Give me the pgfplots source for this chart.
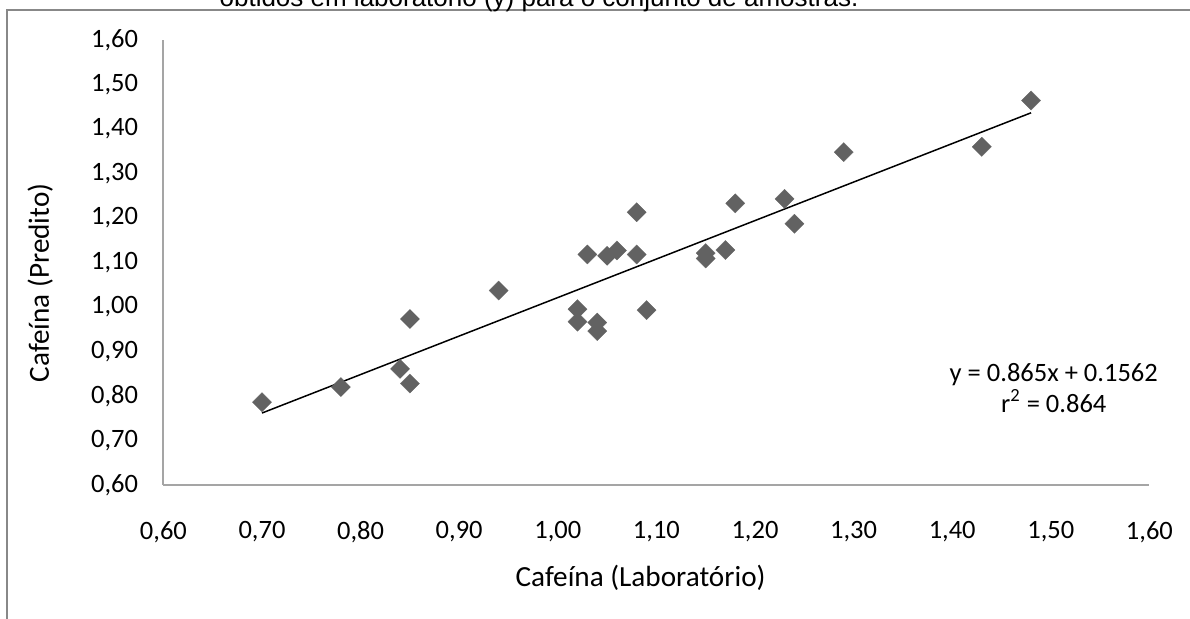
\documentclass[border=0pt]{standalone}
\usepackage{fontspec}
\setmainfont{Carlito}
\newfontfamily\arial{Liberation Sans}
\usepackage{pgfplots}
\pgfplotsset{compat=1.18}
\definecolor{mk}{RGB}{98,98,98}
\definecolor{ax}{RGB}{165,165,165}
\definecolor{fr}{RGB}{136,136,136}

\pgfplotstableread{
x y
0.70 0.786
0.78 0.820
0.84 0.861
0.85 0.828
0.85 0.973
0.94 1.037
1.02 0.995
1.02 0.967
1.04 0.965
1.04 0.946
1.03 1.118
1.05 1.115
1.06 1.127
1.08 1.213
1.08 1.118
1.09 0.993
1.15 1.121
1.15 1.109
1.17 1.128
1.18 1.233
1.23 1.243
1.24 1.187
1.29 1.348
1.43 1.360
1.48 1.464
}\datatable

\begin{document}
\begin{tikzpicture}[x=0.5pt,y=0.5pt]
\useasboundingbox (0,0) rectangle (1190,619);
\draw[fr, line width=1pt] (7,-10) -- (7,609) -- (1210,609);
\node[font=\arial\fontsize{13}{15}\selectfont, anchor=base, inner sep=0pt] at (539,612) {obtidos em laboratório (y) para o conjunto de amostras.};
\begin{axis}[
  at={(81.7pt,67pt)}, anchor=south west,
  scale only axis, width=493pt, height=222.5pt,
  xmin=0.6, xmax=1.6, ymin=0.6, ymax=1.6,
  xtick={0.6,0.7,0.8,0.9,1.0,1.1,1.2,1.3,1.4,1.5,1.6},
  ytick={0.6,0.7,0.8,0.9,1.0,1.1,1.2,1.3,1.4,1.5,1.6},
  axis x line*=bottom, axis y line*=left,
  axis line style={ax, line width=1pt},
  major tick length=0pt,
  tick label style={font=\fontsize{13.25}{15}\selectfont},
  xticklabel style={inner sep=0pt, anchor=north, yshift=-18pt},
  yticklabel style={inner sep=0pt, anchor=east, xshift=-12.5pt},
  /pgf/number format/.cd, fixed, fixed zerofill, precision=2, use comma, assume math mode=true,
  /pgfplots/.cd,
  xlabel={Cafeína (Laboratório)},
  ylabel={Cafeína (Predito)},
  xlabel style={at={(rel axis cs:0.484,0)}, anchor=center, yshift=-46.5pt, font=\fontsize{14.6}{17}\selectfont},
  ylabel style={at={(rel axis cs:-0.125,0.454)}, anchor=center, rotate=0, font=\fontsize{14.6}{17}\selectfont},
  clip=false,
]
\addplot[only marks, mark=square*, mark size=3.4pt, mark options={rotate=45, fill=mk, draw=mk, line width=0.1pt}] table[x=x,y=y] {\datatable};
\addplot[black, line width=0.75pt, no marks] coordinates {(0.70,0.7617) (1.48,1.4364)};
\node[align=center, font=\fontsize{13.25}{15.5}\selectfont, inner sep=0pt] at (axis cs:1.503,0.818) {y = 0.865x + 0.1562\\r\textsuperscript{2} = 0.864};
\end{axis}
\end{tikzpicture}
\end{document}
